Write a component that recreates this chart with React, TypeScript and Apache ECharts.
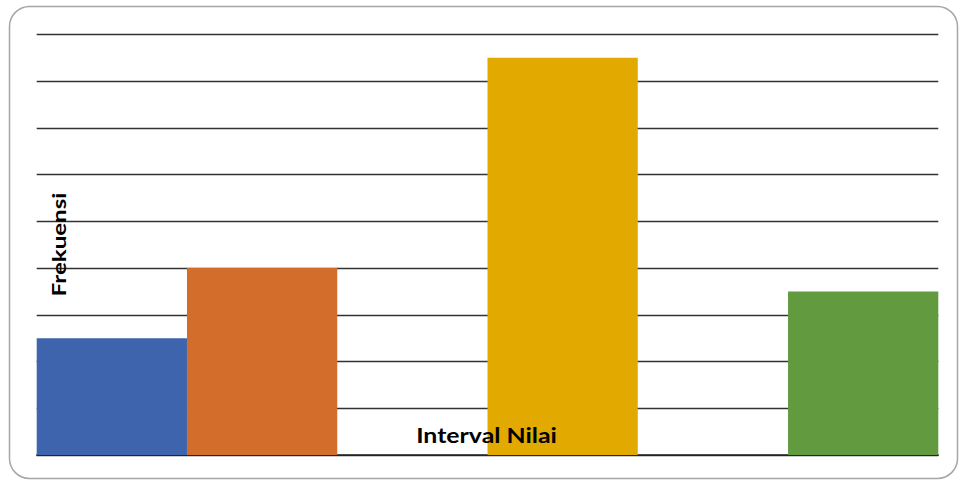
import React, { useEffect, useRef } from "react";
import * as echarts from "echarts";

const categories = ["Interval 1", "Interval 2", "Interval 3", "Interval 4", "Interval 5", "Interval 6"];
const frequencies = [2.5, 4, 0, 8.5, 0, 3.5];
const barColors = ["#3D64AD", "#D36D2B", "#FFFFFF", "#E2A900", "#FFFFFF", "#629A3F"];
const yTitle = "Frekuensi";
const xTitle = "Interval Nilai";

export default function App() {
  const ref = useRef<HTMLDivElement>(null);
  useEffect(() => {
    if (!ref.current) return;
    const chart = echarts.init(ref.current, null, { renderer: "svg" });
    chart.setOption({
      animation: false,
      backgroundColor: "#ffffff",
      grid: { left: 36.7, right: 20.7, top: 34.3, bottom: 25, containLabel: false },
      xAxis: {
        type: "category",
        data: categories,
        axisLine: { show: true, lineStyle: { color: "#222", width: 1.5 } },
        axisTick: { show: false },
        axisLabel: { show: false },
        splitLine: { show: false },
      },
      yAxis: {
        type: "value",
        min: 0,
        max: 9,
        interval: 1,
        axisLine: { show: false },
        axisTick: { show: false },
        axisLabel: { show: false },
        splitLine: { show: true, lineStyle: { color: "#333", width: 1.4 } },
      },
      series: [
        {
          type: "bar",
          barCategoryGap: "0%",
          data: frequencies.map((v, i) => ({ value: v, itemStyle: { color: barColors[i] } })),
        },
      ],
      graphic: [
        {
          type: "rect",
          shape: { x: 9.5, y: 6.5, width: 948, height: 472, r: 20 },
          style: { fill: "none", stroke: "#a6a6a6", lineWidth: 1.5 },
          z: 0,
          silent: true,
        },
        {
          type: "text",
          x: 59.5,
          y: 244.5,
          rotation: Math.PI / 2,
          scaleX: 1.34,
          scaleY: 1.0,
          z: 100,
          style: {
            text: yTitle,
            font: "bold 18px Lato",
            fill: "#000",
            align: "center",
            verticalAlign: "middle",
          },
        },
        {
          type: "text",
          x: 486.5,
          y: 435,
          scaleX: 1.38,
          scaleY: 1.15,
          z: 100,
          style: {
            text: xTitle,
            font: "bold 18px Lato",
            fill: "#000",
            align: "center",
            verticalAlign: "middle",
          },
        },
      ],
    });
    return () => chart.dispose();
  }, []);
  return (
    <div style={{ position: "fixed", left: 0, top: 0, width: 959, height: 480, background: "#fff" }}>
      <div ref={ref} style={{ width: 959, height: 480 }} />
    </div>
  );
}
